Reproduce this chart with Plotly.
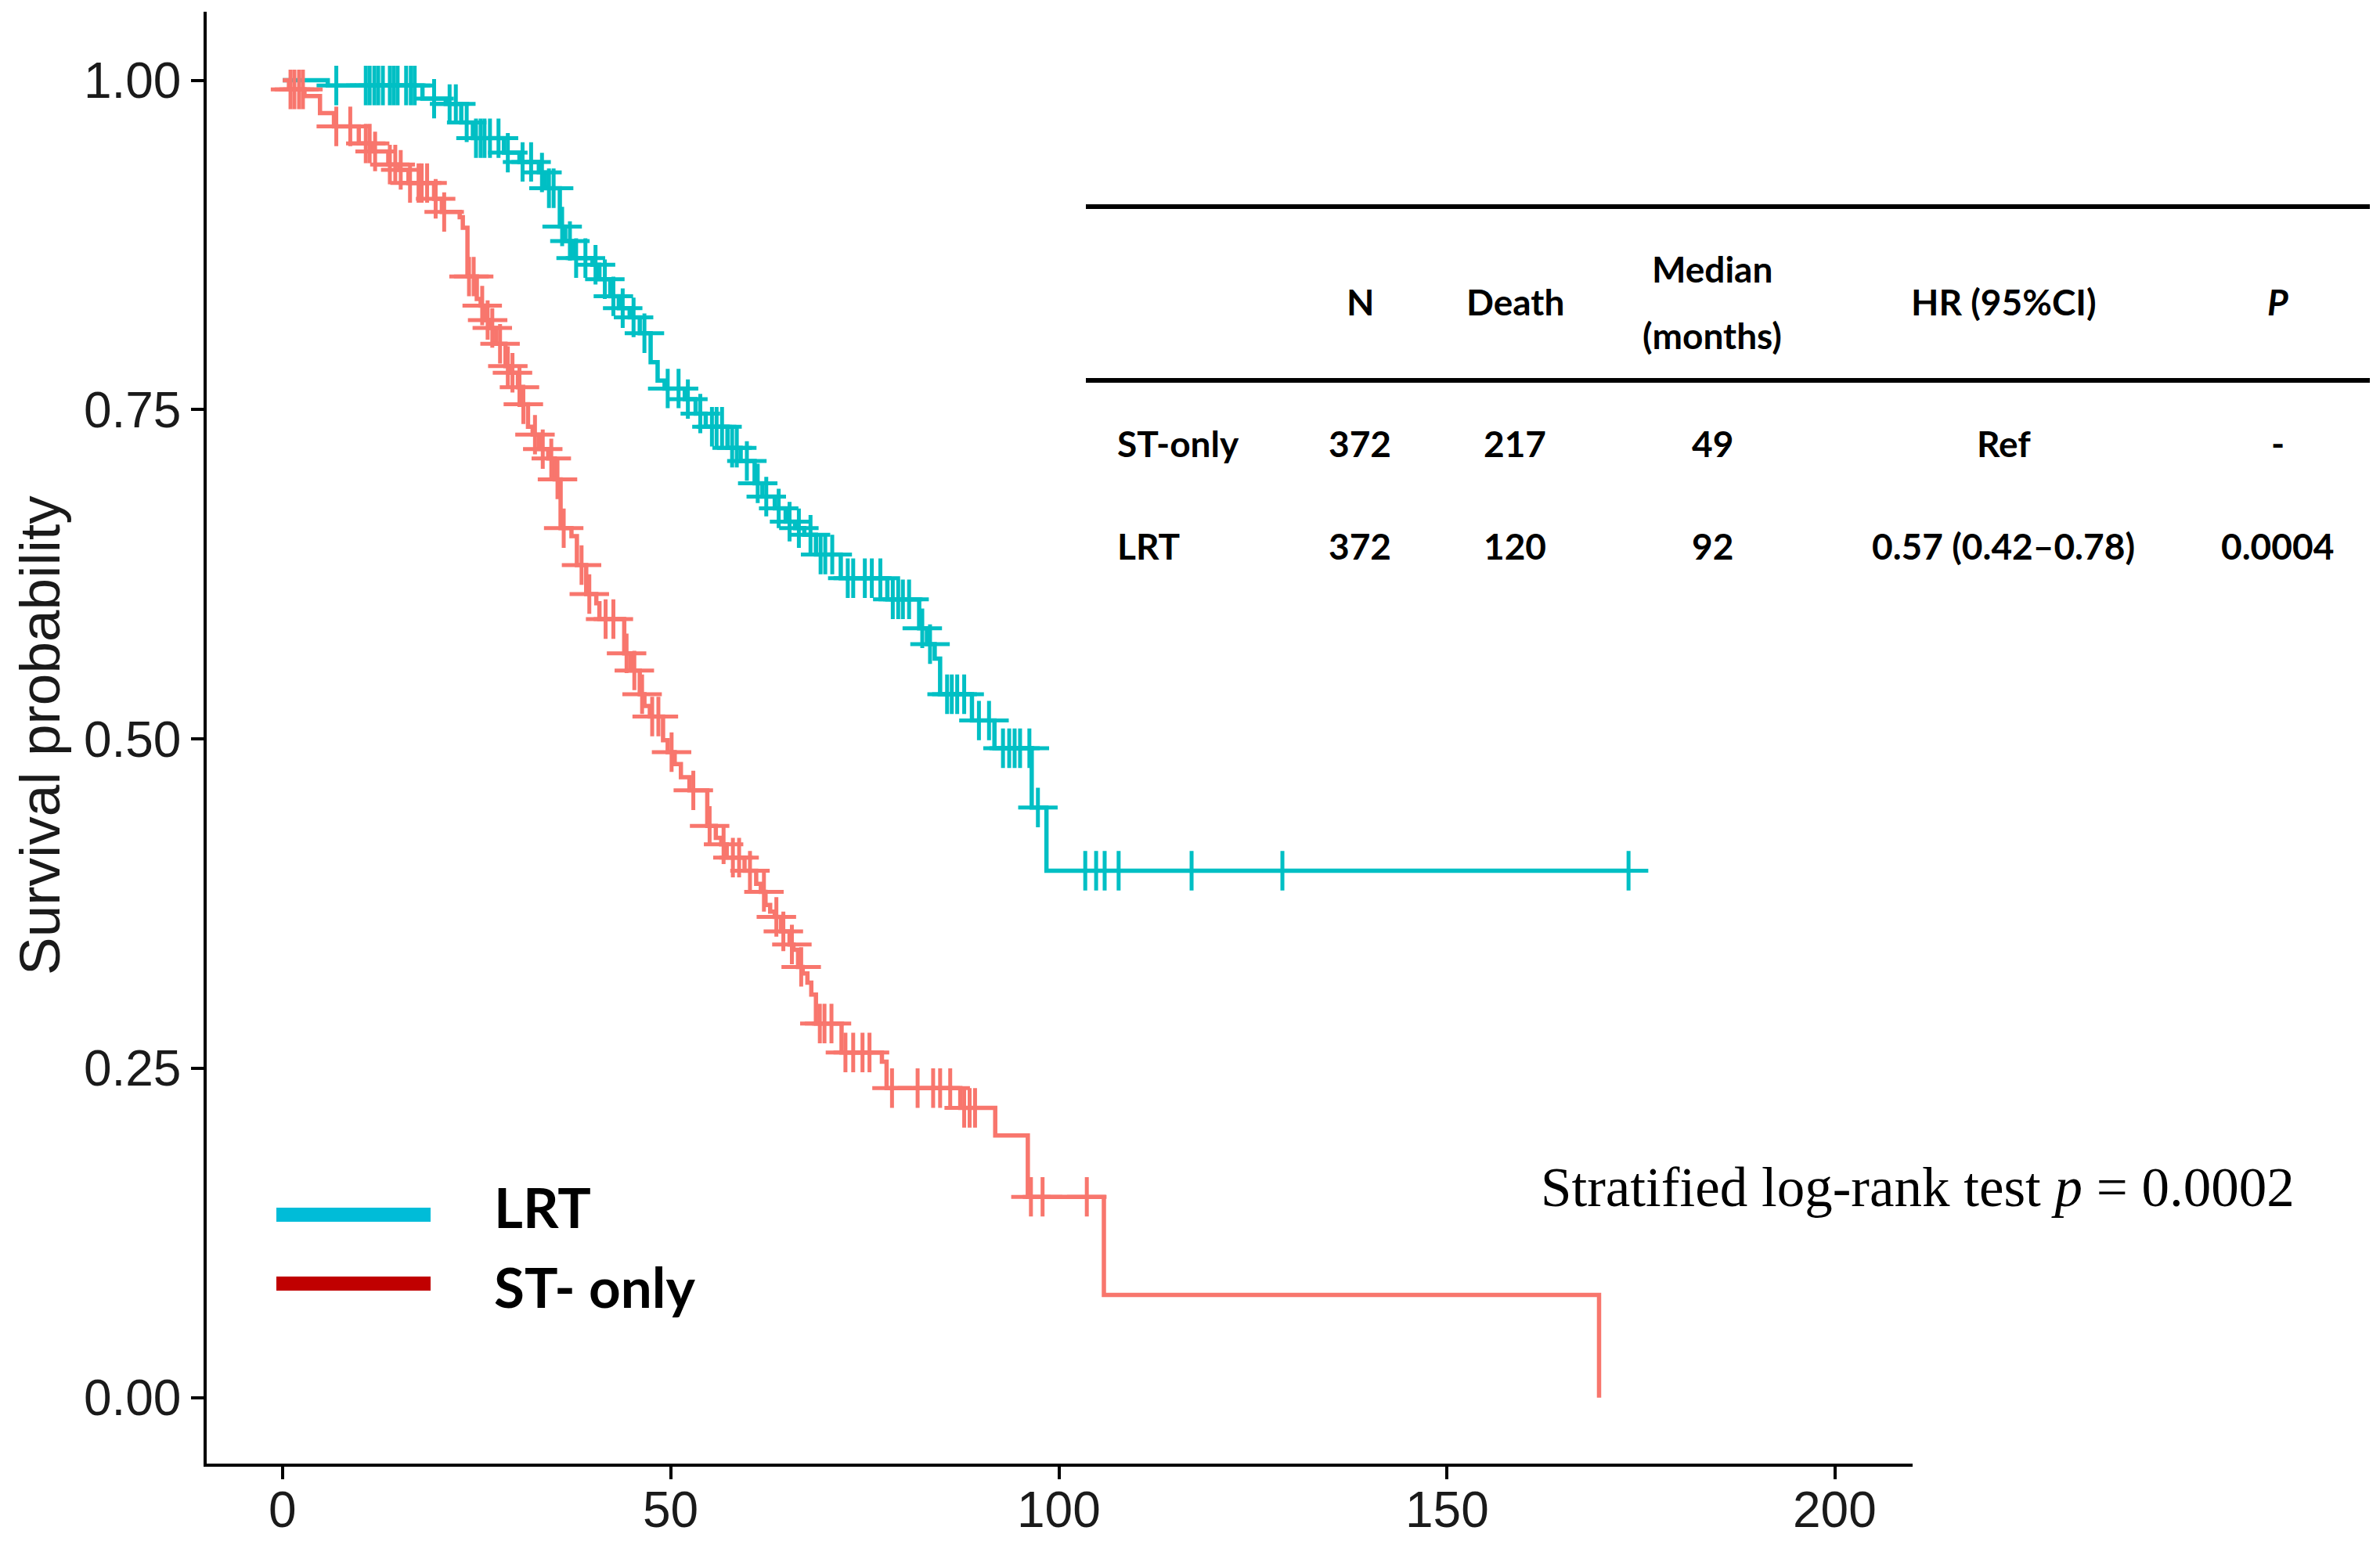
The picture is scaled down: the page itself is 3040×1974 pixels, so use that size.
import plotly.graph_objects as go

# Kaplan-Meier steps, LRT arm (months, survival after each drop; last row = end of follow-up)
lrt_time = [0, 5.8, 18.0, 21.0, 23.0, 24.5, 28.5, 30.5, 33.0, 33.8, 35.7, 36.4, 37.4,
            39.9, 40.8, 42.2, 43.3, 44.7, 46.0, 47.4, 48.3, 49.2, 51.8, 53.2, 54.5,
            57.3, 59.0, 60.8, 61.8, 63.4, 64.8, 66.0, 67.2, 68.7, 71.9, 77.9, 82.0,
            83.0, 84.0, 84.7, 88.8, 91.7, 96.5, 98.4, 173.4]
lrt_surv = [1.000, 0.996, 0.986, 0.982, 0.968, 0.956, 0.945, 0.938, 0.930, 0.918, 0.889,
            0.878, 0.865, 0.860, 0.849, 0.836, 0.827, 0.820, 0.808, 0.786, 0.772, 0.766,
            0.758, 0.747, 0.737, 0.721, 0.711, 0.694, 0.684, 0.675, 0.665, 0.660, 0.655,
            0.640, 0.622, 0.606, 0.584, 0.572, 0.561, 0.534, 0.514, 0.493, 0.448, 0.400,
            0.400]

# censored patients, LRT arm
lrt_cens_time = [6.9, 10.7, 11.2, 11.8, 12.3, 12.9, 13.8, 14.3, 14.8, 15.9, 16.5, 17.0,
                 19.5, 21.5, 22.3, 23.7, 24.9, 25.5, 26.0, 26.7, 27.8, 29.0, 30.9, 32.0,
                 33.4, 34.3, 34.9, 36.0, 37.0, 37.8, 39.0, 40.3, 41.5, 42.6, 43.8, 45.2,
                 46.6, 49.6, 51.0, 52.2, 53.8, 55.3, 55.9, 56.6, 57.9, 58.5, 59.8, 61.2,
                 62.3, 63.9, 65.3, 66.5, 68.0, 69.3, 69.9, 70.8, 72.8, 73.5, 75.0, 75.9,
                 77.0, 78.6, 79.3, 79.9, 80.7, 82.4, 83.4, 85.6, 86.2, 86.9, 87.8, 89.7,
                 91.0, 92.8, 93.6, 94.3, 95.0, 96.2, 97.3, 103.4, 104.8, 105.9, 107.7,
                 117.1, 128.8, 173.4]
lrt_cens_surv = [0.996, 0.996, 0.996, 0.996, 0.996, 0.996, 0.996, 0.996, 0.996, 0.996,
                 0.996, 0.996, 0.986, 0.982, 0.982, 0.968, 0.956, 0.956, 0.956, 0.956,
                 0.956, 0.945, 0.938, 0.938, 0.930, 0.918, 0.918, 0.889, 0.878, 0.865,
                 0.865, 0.860, 0.849, 0.836, 0.827, 0.820, 0.808, 0.766, 0.766, 0.758,
                 0.747, 0.737, 0.737, 0.737, 0.721, 0.721, 0.711, 0.694, 0.684, 0.675,
                 0.665, 0.660, 0.655, 0.640, 0.640, 0.640, 0.622, 0.622, 0.622, 0.622,
                 0.622, 0.606, 0.606, 0.606, 0.606, 0.584, 0.572, 0.534, 0.534, 0.534,
                 0.534, 0.514, 0.514, 0.493, 0.493, 0.493, 0.493, 0.493, 0.448, 0.400,
                 0.400, 0.400, 0.400, 0.400, 0.400, 0.400]

# Kaplan-Meier steps, ST-only arm
st_time = [0, 0.8, 2.8, 4.8, 6.6, 9.8, 11.6, 13.6, 15.0, 16.2, 19.5, 20.5, 22.8, 23.2,
           23.8, 25.0, 25.5, 26.0, 26.7, 27.5, 28.7, 29.2, 30.3, 30.8, 31.6, 32.2, 33.0,
           34.2, 35.05, 35.8, 37.2, 37.9, 39.1, 40.4, 40.8, 44.0, 44.8, 46.0, 46.6, 47.3,
           49.0, 49.6, 50.5, 51.3, 52.4, 54.7, 55.8, 56.5, 57.2, 59.5, 61.0, 61.6, 62.2,
           62.8, 63.4, 64.2, 65.3, 65.8, 66.4, 67.0, 67.6, 68.1, 68.7, 72.0, 77.2, 77.8,
           87.3, 91.8, 96.0, 105.8, 169.6]
st_surv = [1.000, 0.993, 0.988, 0.975, 0.965, 0.952, 0.946, 0.936, 0.932, 0.922, 0.910,
           0.900, 0.896, 0.888, 0.851, 0.834, 0.829, 0.818, 0.812, 0.800, 0.783, 0.778,
           0.767, 0.754, 0.737, 0.731, 0.720, 0.713, 0.697, 0.660, 0.654, 0.632, 0.610,
           0.603, 0.591, 0.565, 0.552, 0.534, 0.525, 0.517, 0.499, 0.490, 0.481, 0.471,
           0.461, 0.434, 0.425, 0.420, 0.410, 0.400, 0.390, 0.384, 0.374, 0.369, 0.365,
           0.354, 0.344, 0.340, 0.327, 0.322, 0.315, 0.306, 0.284, 0.262, 0.255, 0.235,
           0.220, 0.199, 0.1525, 0.078, 0.000]

# censored patients, ST-only arm
st_cens_time = [1.0, 1.5, 2.1, 2.6, 6.9, 8.7, 10.7, 11.2, 11.9, 13.8, 14.5, 15.2, 16.4,
                17.5, 17.9, 18.6, 19.7, 20.8, 24.0, 24.6, 25.7, 26.4, 27.0, 28.0, 29.0,
                29.6, 30.5, 31.0, 32.5, 33.5, 34.6, 35.4, 36.2, 38.5, 39.5, 41.6, 42.6,
                44.3, 45.3, 46.3, 47.6, 48.4, 50.1, 52.9, 55.0, 56.8, 58.0, 58.8, 60.2,
                62.0, 63.6, 64.5, 65.6, 66.8, 69.2, 69.8, 70.7, 72.5, 73.5, 74.7, 75.6,
                78.5, 81.8, 83.8, 84.7, 86.0, 87.8, 88.5, 89.2, 96.4, 97.9, 103.6]
st_cens_surv = [0.993, 0.993, 0.993, 0.993, 0.965, 0.965, 0.952, 0.952, 0.946, 0.936,
                0.936, 0.932, 0.922, 0.922, 0.922, 0.922, 0.910, 0.900, 0.851, 0.851,
                0.829, 0.818, 0.812, 0.800, 0.783, 0.778, 0.767, 0.754, 0.731, 0.720,
                0.713, 0.697, 0.660, 0.632, 0.610, 0.591, 0.591, 0.565, 0.552, 0.534,
                0.517, 0.517, 0.490, 0.461, 0.434, 0.420, 0.410, 0.410, 0.400, 0.384,
                0.365, 0.354, 0.344, 0.327, 0.284, 0.284, 0.284, 0.262, 0.262, 0.262,
                0.262, 0.235, 0.235, 0.235, 0.235, 0.235, 0.220, 0.220, 0.220, 0.1525,
                0.1525, 0.1525]

x_ticks = [0, 50, 100, 150, 200]
y_ticks = [0.00, 0.25, 0.50, 0.75, 1.00]

# summary table
table_header = ["N", "Death", "Median", "HR (95%CI)", "<i>P</i>"]
table_rows = [
    ["ST-only", "372", "217", "49", "Ref", "-"],
    ["LRT", "372", "120", "92", "0.57 (0.42\u20130.78)", "0.0004"],
]
logrank_text = "Stratified log-rank test <i>p</i> = 0.0002"

TEAL = "#00BFC4"
SALMON = "#F8766D"

W, H = 3040, 1974
OFF = 8  # page body margin
L, R, T, B = 264, 2443, 15, 1870  # plot area as seen on screen


def px(x):
    return (x - L) / (R - L)


def py(y):
    return (B - y) / (B - T)


fig = go.Figure()

for t, s, ct, cs, col in [(lrt_time, lrt_surv, lrt_cens_time, lrt_cens_surv, TEAL),
                          (st_time, st_surv, st_cens_time, st_cens_surv, SALMON)]:
    fig.add_trace(go.Scatter(
        x=t, y=s, mode="lines", line=dict(color=col, width=5.5, shape="hv"),
        showlegend=False, hoverinfo="skip"
    ))
    fig.add_trace(go.Scatter(
        x=ct, y=cs, mode="markers", showlegend=False,
        marker=dict(symbol="cross-thin", size=36, line=dict(color=col, width=5))
    ))

annotations = []
shapes = []

tick_font = dict(family="Liberation Sans, Arial", size=64, color="#1a1a1a")

# x tick labels, set a little closer to the axis than plotly's default
for xt in x_ticks:
    annotations.append(dict(x=xt, y=py(1929), xref="x", yref="paper", text=str(xt),
                            showarrow=False, xanchor="center", yanchor="middle",
                            font=tick_font))

# y axis title
annotations.append(dict(
    x=px(50), y=py(940), xref="paper", yref="paper", text="Survival probability",
    textangle=-90, showarrow=False, xanchor="center", yanchor="middle",
    font=dict(family="Liberation Sans, Arial", size=73, color="#1a1a1a")
))

# table rules
for yy in [264, 486]:
    shapes.append(dict(type="line", xref="paper", yref="paper",
                       x0=px(1387), x1=px(3027), y0=py(yy), y1=py(yy),
                       line=dict(color="black", width=6)))

tfont = dict(family="Lato, Open Sans", size=46, color="black", weight="bold")
col_x = [1425, 1737, 1935, 2187, 2559, 2909]
head_x = col_x[1:]
for hx, ht in zip(head_x, table_header):
    yy = 343 if ht == "Median" else 386
    annotations.append(dict(x=px(hx), y=py(yy), xref="paper", yref="paper", text=ht,
                            showarrow=False, xanchor="center", yanchor="middle", font=tfont))
annotations.append(dict(x=px(2187), y=py(429), xref="paper", yref="paper", text="(months)",
                        showarrow=False, xanchor="center", yanchor="middle", font=tfont))

for ry, row in zip([566, 697], table_rows):
    for i, (cx, cell) in enumerate(zip(col_x, row)):
        annotations.append(dict(x=px(cx), y=py(ry), xref="paper", yref="paper", text=cell,
                                showarrow=False, xanchor="left" if i == 0 else "center",
                                yanchor="middle", font=tfont))

# log-rank annotation
annotations.append(dict(
    x=px(1966), y=py(1517), xref="paper", yref="paper", text=logrank_text,
    showarrow=False, xanchor="left", yanchor="middle",
    font=dict(family="Liberation Serif, Times New Roman", size=71, color="black")
))

# manual legend
for ly, ty, lcol, lab in [(1552, 1541, "#00BCD8", "LRT"), (1640, 1643, "#C00000", "ST- only")]:
    shapes.append(dict(type="line", xref="paper", yref="paper",
                       x0=px(353), x1=px(550), y0=py(ly), y1=py(ly),
                       line=dict(color=lcol, width=18)))
    annotations.append(dict(
        x=px(629), y=py(ty), xref="paper", yref="paper", text=lab,
        showarrow=False, xanchor="left", yanchor="middle",
        font=dict(family="Lato, Open Sans", size=71, color="black", weight="bold")
    ))

axis_common = dict(
    showline=True, linecolor="black", linewidth=3.5, ticks="outside", ticklen=16,
    tickwidth=3.5, tickcolor="black", showgrid=False, zeroline=False, automargin=False,
    tickfont=tick_font
)

fig.update_layout(
    width=W, height=H,
    margin=dict(l=L - OFF, r=W - R + OFF, t=T - OFF, b=H - B + OFF),
    plot_bgcolor="white", paper_bgcolor="white",
    xaxis=dict(range=[-9.8, 210], tickvals=x_ticks, showticklabels=False, **axis_common),
    yaxis=dict(range=[-0.05, 1.052], tickvals=y_ticks, tickformat=".2f", **axis_common),
    shapes=shapes, annotations=annotations, showlegend=False
)

fig.write_html("out.html")
